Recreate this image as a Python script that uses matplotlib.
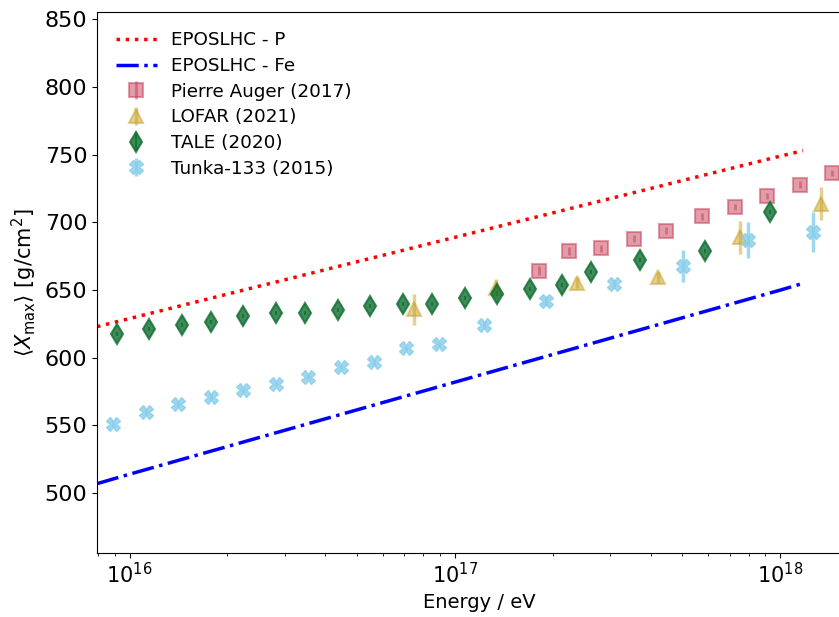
import numpy as np
import matplotlib
matplotlib.use("Agg")
import matplotlib.pyplot as plt

# EPOS-LHC model lines (log10 E, <Xmax>)
epos_logE = [15.90, 16.0, 17.0, 18.0, 18.07]
epos_p = [623, 629, 689, 749, 753]
epos_fe = [507, 514, 582, 650, 655]

# Pierre Auger (2017)
auger_logE = [17.26, 17.35, 17.45, 17.55, 17.65, 17.76, 17.86, 17.96, 18.06, 18.16]
auger_x = [664.5, 679, 681, 688, 694, 704.5, 711.5, 719.5, 728, 736.5]
auger_err = [3, 3, 2.5, 2.5, 2.5, 2.5, 2.5, 2.5, 2.5, 2.5]

# LOFAR (2021)
lofar_logE = [16.875, 17.125, 17.375, 17.625, 17.875, 18.125]
lofar_x = [636, 651.5, 655.5, 659.5, 689, 714]
lofar_err = [11.5, 7, 4, 4, 12, 12]

# TALE (2020)
tale_logE = [15.96, 16.06, 16.16, 16.25, 16.35, 16.45, 16.54, 16.64, 16.74,
             16.84, 16.93, 17.03, 17.13, 17.23, 17.33, 17.42, 17.57, 17.77, 17.97]
tale_x = [617.5, 621, 624, 626.5, 631, 633, 633, 635, 638, 639.5, 640,
          644, 647.5, 651, 654, 663.5, 672, 679, 708]
tale_err = [1.5] * len(tale_x)

# Tunka-133 (2015)
tunka_logE = [15.95, 16.05, 16.15, 16.25, 16.35, 16.45, 16.55, 16.65, 16.75,
              16.85, 16.95, 17.09, 17.28, 17.49, 17.70, 17.90, 18.10]
tunka_x = [551, 560, 566, 571, 576, 581, 586, 593, 597, 607, 610, 624,
           642, 654.5, 668, 687, 693]
tunka_err = [2, 2, 2, 2, 2, 2, 2, 2, 2, 2, 2, 3, 4, 4, 12, 13, 15]

fig = plt.figure(figsize=(8.39, 6.17), dpi=100)
ax = fig.add_axes([97 / 839, 64.3 / 617, 764.5 / 839, 540.7 / 617])

ax.plot(10 ** np.array(epos_logE), epos_p, color="red", ls=":", lw=2.5, label="EPOSLHC - P")
ax.plot(10 ** np.array(epos_logE), epos_fe, color="blue", ls="-.", lw=2.5, label="EPOSLHC - Fe")

ax.errorbar(10 ** np.array(auger_logE), auger_x, yerr=auger_err, fmt="s", color="#c43c55",
            alpha=0.5, ms=9.5, mew=1.5, elinewidth=2, capsize=0, label="Pierre Auger (2017)")
ax.errorbar(10 ** np.array(lofar_logE), lofar_x, yerr=lofar_err, fmt="^", color="#c9a227",
            alpha=0.5, ms=10, mew=1.5, elinewidth=2.5, capsize=0, label="LOFAR (2021)")
ax.errorbar(10 ** np.array(tale_logE), tale_x, yerr=tale_err, fmt="d", color="#0f6e30",
            alpha=0.8, ms=10, mew=1.5, elinewidth=1.5, capsize=0, label="TALE (2020)")
ax.errorbar(10 ** np.array(tunka_logE), tunka_x, yerr=tunka_err, fmt="X", color="skyblue",
            alpha=0.8, ms=10, mew=1.0, elinewidth=2.5, capsize=0, label="Tunka-133 (2015)")

ax.set_xscale("log")
ax.set_xlim(10 ** 15.9, 10 ** 18.25)
ax.set_ylim(456, 855.5)
ax.set_yticks([500, 550, 600, 650, 700, 750, 800, 850])
ax.tick_params(axis="y", labelsize=16)
ax.tick_params(axis="x", labelsize=15)
ax.set_xlabel("Energy / eV", fontsize=14)
ax.set_ylabel(r"$\langle X_{\rm max}\rangle$ [g/cm$^2$]", fontsize=15)
ax.legend(loc="upper left", frameon=False, fontsize=13.2, borderaxespad=0.65,
          labelspacing=0.42, handlelength=2.2)

fig.savefig("out.png", dpi=100)
